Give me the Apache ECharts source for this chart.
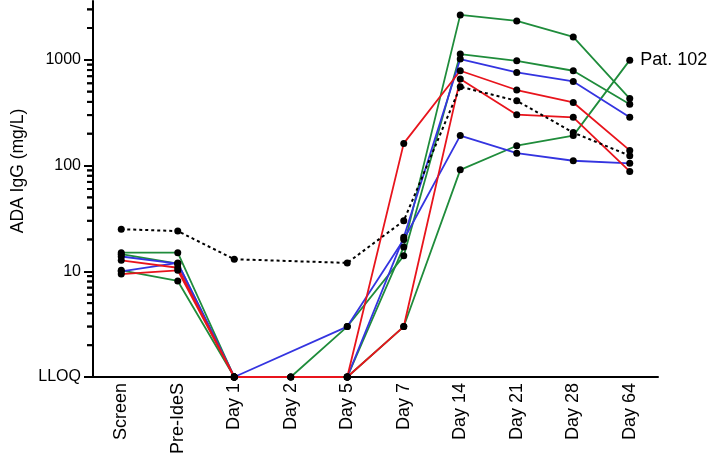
<!DOCTYPE html>
<html>
<head>
<meta charset="utf-8">
<script src="https://cdn.jsdelivr.net/npm/echarts@6/dist/echarts.min.js"></script>
<style>
html,body{margin:0;padding:0;background:#fff;}
#chart{width:709px;height:466px;}
</style>
</head>
<body>
<div id="chart"></div>
<script>
// ---- data ----
var categories = ['Screen','Pre-IdeS','Day 1','Day 2','Day 5','Day 7','Day 14','Day 21','Day 28','Day 64'];
var yTickValues = [1, 10, 100, 1000];
var yTickLabels = ['LLOQ', '10', '100', '1000'];
var minorTickValues = [2,3,4,5,6,7,8,9,20,30,40,50,60,70,80,90,200,300,400,500,600,700,800,900,2000,3000];

var blackDotted = [25, 24, 13, null, 12, 30, 556, 410, 205, 124];
var green1 = [15, 15, 1, 1, 1, 17, 2660, 2333, 1648, 430];
var green2 = [14.5, 11.8, 1, 1, 3, 14, 1132, 979, 788, 380];
var green3 = [10.2, 8.1, 1, 1, 1, 3, 91, 154, 192, 993];
var blue1 = [13.8, 11.8, 1, null, 1, 21, 1016, 759, 624, 286];
var blue2 = [10, 12, 1, null, 3, 20, 192, 131, 111, 105];
var red1 = [12.7, 10.8, 1, null, 1, 162, 788, 518, 395, 139];
var red2 = [9.4, 10.2, 1, null, 1, 3, 657, 303, 286, 88];
var patLabel = 'Pat. 102';

var RED = '#e8141c', BLUE = '#3434e0', GREEN = '#1f8c3b';
var FONT = 'Liberation Sans';

function line(name, data, color, dotted, labelIdx) {
  return {
    name: name,
    type: 'line',
    data: data.map(function (v, i) {
      if (labelIdx === i) {
        return { value: v, label: { show: true, formatter: patLabel, position: 'right', distance: 7,
          color: '#000', fontSize: 18, fontFamily: FONT } };
      }
      return v;
    }),
    connectNulls: true,
    symbol: 'circle',
    symbolSize: 7,
    showAllSymbol: true,
    itemStyle: { color: '#000' },
    lineStyle: { color: color, width: dotted ? 2 : 1.8, type: dotted ? [3, 3] : 'solid' },
    emphasis: { disabled: true },
    z: dotted ? 3 : 2
  };
}

var chart = echarts.init(document.getElementById('chart'));
chart.setOption({
  animation: false,
  grid: { left: 93, right: 51, top: 1, bottom: 89, containLabel: false },
  xAxis: {
    type: 'category',
    data: categories,
    axisLine: { lineStyle: { color: '#000', width: 2 } },
    axisTick: { alignWithLabel: true, length: 6, lineStyle: { color: '#000', width: 2 } },
    axisLabel: { rotate: 90, color: '#000', fontSize: 18, fontFamily: FONT, margin: 6, interval: 0 },
    splitLine: { show: false }
  },
  yAxis: {
    type: 'log',
    logBase: 10,
    min: 1,
    max: 3600,
    name: 'ADA IgG (mg/L)',
    nameLocation: 'middle',
    nameGap: 64,
    nameTextStyle: { color: '#000', fontSize: 17.5, fontFamily: FONT, padding: [0, 0, 0, 36] },
    axisLine: { show: true, lineStyle: { color: '#000', width: 2 } },
    axisTick: { show: true, length: 9, customValues: yTickValues, lineStyle: { color: '#000', width: 2 } },
    axisLabel: {
      color: '#000', fontSize: 16, fontFamily: FONT, margin: 12,
      customValues: yTickValues,
      formatter: function (v) {
        var i = yTickValues.indexOf(Math.round(v));
        return i >= 0 ? yTickLabels[i] : '';
      }
    },
    splitLine: { show: false }
  },
  series: [
    {
      type: 'scatter',
      data: minorTickValues.map(function (v) { return [0, v]; }),
      symbol: 'rect',
      symbolSize: [6, 2],
      symbolOffset: [-31.25, 0],
      itemStyle: { color: '#000' },
      clip: false,
      silent: true,
      z: 10
    },
    {
      type: 'custom',
      data: minorTickValues.map(function (v) { return [0, v]; }),
      encode: { x: 0, y: 1 },
      clip: false,
      z: 10,
      renderItem: function (params, api) {
        var pt = api.coord([api.value(0), api.value(1)]);
        var half = api.size([1, 0])[0] / 2;
        var x0 = pt[0] - half;
        return {
          type: 'line',
          shape: { x1: x0 - 6, y1: pt[1], x2: x0, y2: pt[1] },
          style: { stroke: '#000', lineWidth: 2 }
        };
      }
    },
    line('green1', green1, GREEN, false),
    line('green2', green2, GREEN, false),
    line('green3', green3, GREEN, false, 9),
    line('blue1', blue1, BLUE, false),
    line('blue2', blue2, BLUE, false),
    line('red1', red1, RED, false),
    line('red2', red2, RED, false),
    line('black', blackDotted, '#000', true)
  ]
});
</script>
</body>
</html>
